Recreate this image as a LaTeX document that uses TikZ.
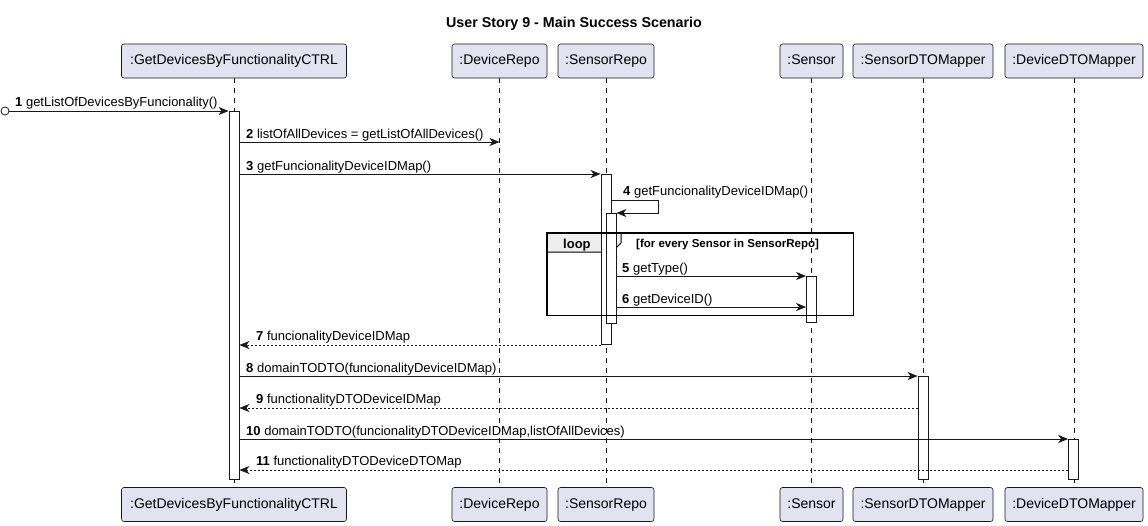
\documentclass[tikz,border=0pt]{standalone}
\usepackage{fontspec}
\setmainfont{Liberation Sans}
\usetikzlibrary{arrows.meta}
\definecolor{lineC}{HTML}{181818}
\definecolor{partC}{HTML}{E2E2F0}
\definecolor{tabC}{HTML}{EEEEEE}
\begin{document}
\begin{tikzpicture}[x=1pt,y=-1pt,
  part/.style={draw=lineC, fill=partC, rounded corners=2.5pt, line width=0.6pt, minimum height=34pt, inner sep=0pt, text height=10.5pt, text depth=3pt, font=\fontsize{14}{16}\selectfont},
  life/.style={draw=lineC, line width=0.5pt, dash pattern=on 5pt off 5pt},
  act/.style={draw=lineC, fill=white, line width=0.8pt, minimum width=10pt, inner sep=0pt},
  msg/.style={draw=lineC, line width=0.8pt, -{Stealth[length=10pt,width=8pt,inset=3pt]}},
  ret/.style={msg, dash pattern=on 2pt off 2pt},
  lbl/.style={anchor=base west, inner sep=0pt, font=\fontsize{13}{15}\selectfont},
]
\useasboundingbox (0,0) rectangle (1148,525);
% title
\node[font=\bfseries\fontsize{14.3}{16}\selectfont, inner sep=0pt] (title) at (574,24) {User Story 9 - Main Success Scenario};
% participants top
\node[part, minimum width=225pt] (tC) at (234,61) {:GetDevicesByFunctionalityCTRL};
\node[part, minimum width=95pt] (tDR) at (499.5,61) {:DeviceRepo};
\node[part, minimum width=96pt] (tSR) at (606,61) {:SensorRepo};
\node[part, minimum width=63pt] (tS) at (811.5,61) {:Sensor};
\node[part, minimum width=140pt] (tSM) at (923,61) {:SensorDTOMapper};
\node[part, minimum width=138pt] (tDM) at (1074,61) {:DeviceDTOMapper};
% participants bottom
\node[part, minimum width=225pt] (bC) at (234,504.5) {:GetDevicesByFunctionalityCTRL};
\node[part, minimum width=95pt] (bDR) at (499.5,504.5) {:DeviceRepo};
\node[part, minimum width=96pt] (bSR) at (606,504.5) {:SensorRepo};
\node[part, minimum width=63pt] (bS) at (811.5,504.5) {:Sensor};
\node[part, minimum width=140pt] (bSM) at (923,504.5) {:SensorDTOMapper};
\node[part, minimum width=138pt] (bDM) at (1074,504.5) {:DeviceDTOMapper};
% lifelines
\draw[life] (tC) -- (bC);
\draw[life] (tDR) -- (bDR);
\draw[life] (tSR) -- (bSR);
\draw[life] (tS) -- (bS);
\draw[life] (tSM) -- (bSM);
\draw[life] (tDM) -- (bDM);
% loop frame
\node[draw=none, minimum width=306pt, minimum height=82pt, anchor=north west, inner sep=0pt] (loop) at (547,233) {};
\draw[fill=tabC, draw=black, line width=1pt] (loop.north west) -- ++(74,0) -- ++(0,10) -- ++(-9,9) -- ([yshift=-19pt]loop.north west) -- cycle;
% activations
\node[act, minimum height=368pt] (aC) at (234,295) {};
\node[act, minimum height=170pt] (aS1) at (606,259) {};
\node[act, minimum height=110pt] (aS2) at (611,268) {};
\node[act, minimum height=46pt] (aSe) at (811.5,299) {};
\node[act, minimum height=103pt] (aSM) at (923,427.5) {};
\node[act, minimum height=40pt] (aDM) at (1073.5,459) {};
\draw[black, line width=1.5pt] (loop.north west) rectangle (loop.south east);
\node[anchor=base west, inner sep=0pt, font=\bfseries\fontsize{13}{15}\selectfont] (looplbl) at (563,248) {loop};
\node[anchor=base west, inner sep=0pt, font=\bfseries\fontsize{11.5}{13}\selectfont] (guard) at (636,247) {[for every Sensor in SensorRepo]};
% message 1
\coordinate (start) at (5,111);
\draw[lineC, line width=0.8pt, fill=white] (start) circle (4pt);
\draw[msg] ([xshift=4pt]start) -- (aC.west |- start);
\node[lbl] (l1) at (15,106) {\textbf{1} getListOfDevicesByFuncionality()};
% message 2
\draw[msg] (aC.east |- 0,142) -- (tDR |- 0,142);
\node[lbl] (l2) at (246,138) {\textbf{2} listOfAllDevices = getListOfAllDevices()};
% message 3
\draw[msg] (aC.east |- 0,174) -- (aS1.west |- 0,174);
\node[lbl] (l3) at (246,170) {\textbf{3} getFuncionalityDeviceIDMap()};
% message 4 (self)
\draw[msg] (aS1.east |- 0,200) -- (658,200) -- (658,213) -- (aS2.east |- 0,213);
\node[lbl] (l4) at (623,195) {\textbf{4} getFuncionalityDeviceIDMap()};
% message 5
\draw[msg] (aS2.east |- 0,276) -- (aSe.west |- 0,276);
\node[lbl] (l5) at (622,272) {\textbf{5} getType()};
% message 6
\draw[msg] (aS2.east |- 0,307) -- (aSe.west |- 0,307);
\node[lbl] (l6) at (622,303) {\textbf{6} getDeviceID()};
% message 7
\draw[ret] (aS1.west |- 0,345) -- (aC.east |- 0,345);
\node[lbl] (l7) at (256,340) {\textbf{7} funcionalityDeviceIDMap};
% message 8
\draw[msg] (aC.east |- 0,376) -- (aSM.west |- 0,376);
\node[lbl] (l8) at (246,372) {\textbf{8} domainTODTO(funcionalityDeviceIDMap)};
% message 9
\draw[ret] (aSM.west |- 0,408) -- (aC.east |- 0,408);
\node[lbl] (l9) at (256,403) {\textbf{9} functionalityDTODeviceIDMap};
% message 10
\draw[msg] (aC.east |- 0,439) -- (aDM.west |- 0,439);
\node[lbl] (l10) at (246,435) {\textbf{10} domainTODTO(funcionalityDTODeviceIDMap,listOfAllDevices)};
% message 11
\draw[ret] (aDM.west |- 0,470) -- (aC.east |- 0,470);
\node[lbl] (l11) at (256,465) {\textbf{11} functionalityDTODeviceDTOMap};
\end{tikzpicture}
\end{document}
